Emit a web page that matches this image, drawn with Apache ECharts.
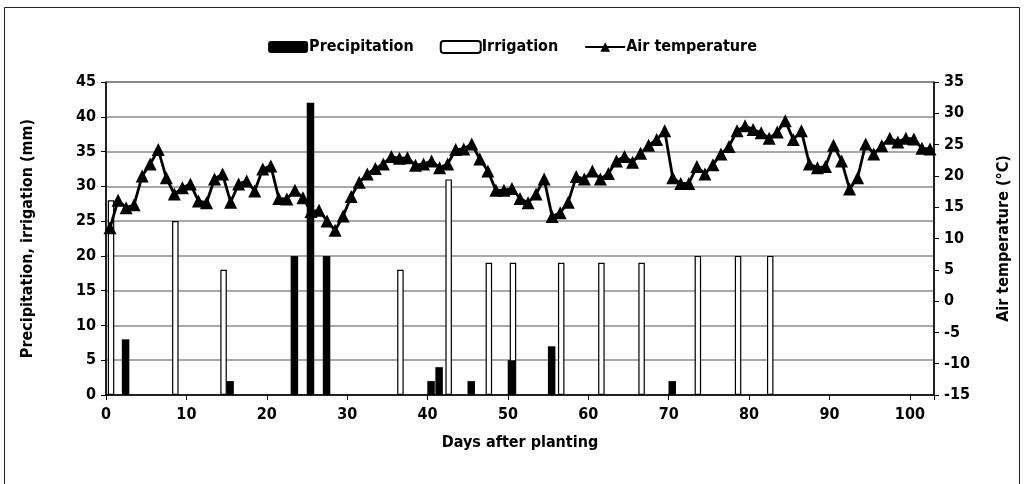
<!DOCTYPE html>
<html>
<head>
<meta charset="utf-8">
<script src="https://cdn.jsdelivr.net/npm/echarts@6/dist/echarts.min.js"></script>
<style>
  body { margin: 0; background: #fff; }
  #main { width: 1025px; height: 484px; }
</style>
</head>
<body>
<div id="main"></div>
<script type="text/javascript">
// daily precipitation (mm)
var precipDays = [2, 15, 23, 25, 27, 40, 41, 45, 50, 55, 70];
var precipMm   = [8, 2, 20, 42, 20, 2, 4, 2, 5, 7, 2];
// irrigation events (mm)
var irrigDays = [0, 8, 14, 36, 42, 47, 50, 56, 61, 66, 73, 78, 82];
var irrigMm   = [28, 25, 18, 18, 31, 19, 19, 19, 19, 19, 20, 20, 20];
// mean air temperature, day 0 .. 102 (°C)
var airTemp = [
  11.7, 16.1, 14.9, 15.4, 20.0, 21.9, 24.2, 19.7, 17.1, 18.1,
  18.7, 16.0, 15.7, 19.5, 20.3, 15.8, 18.7, 19.2, 17.6, 21.1,
  21.6, 16.4, 16.3, 17.7, 16.5, 14.3, 14.5, 12.8, 11.3, 13.6,
  16.7, 19.0, 20.3, 21.2, 21.9, 23.1, 22.8, 22.9, 21.7, 21.9,
  22.4, 21.3, 21.9, 24.2, 24.3, 25.1, 22.7, 20.8, 17.7, 17.7,
  18.0, 16.4, 15.7, 17.1, 19.5, 13.5, 14.1, 15.8, 19.9, 19.5,
  20.8, 19.5, 20.4, 22.4, 23.1, 22.2, 23.6, 24.9, 25.8, 27.2,
  19.7, 18.8, 18.8, 21.5, 20.3, 21.8, 23.5, 24.7, 27.2, 28.0,
  27.4, 26.9, 26.0, 27.0, 28.8, 25.8, 27.2, 21.9, 21.3, 21.5,
  24.9, 22.4, 17.9, 19.7, 25.1, 23.5, 24.8, 26.0, 25.4, 26.0,
  25.9, 24.4, 24.3
];

var font = "'Liberation Sans Narrow', 'DejaVu Sans Condensed', sans-serif";

// excel date axis puts each day in the middle of its slot
function pairs(days, vals) {
  return days.map(function (d, i) { return [d + 0.5, vals[i]]; });
}
var tempData = airTemp.map(function (t, i) { return [i + 0.5, t]; });

var chart = echarts.init(document.getElementById('main'));
chart.setOption({
  animation: false,
  backgroundColor: '#fff',
  textStyle: { fontFamily: font },
  graphic: [{
    type: 'rect',
    shape: { x: 4.5, y: 7.5, width: 1015, height: 500 },
    style: { fill: 'none', stroke: '#222', lineWidth: 1 },
    silent: true
  }],
  legend: {
    top: 34,
    left: 'center',
    itemWidth: 40,
    itemHeight: 12,
    itemGap: 26,
    textStyle: { fontFamily: font, fontWeight: 'bold', fontSize: 16, color: '#000', padding: [0, 0, 0, -4] },
    data: ['Precipitation', 'Irrigation', 'Air temperature']
  },
  grid: {
    left: 106, right: 91, top: 82, bottom: 89,
    show: true, borderColor: '#000', borderWidth: 1
  },
  xAxis: {
    type: 'value',
    min: 0, max: 103, interval: 10,
    name: 'Days after planting',
    nameLocation: 'middle',
    nameGap: 40,
    nameTextStyle: { fontFamily: font, fontWeight: 'bold', fontSize: 16, color: '#000' },
    axisLine: { lineStyle: { color: '#000', width: 1.5 } },
    axisTick: { show: true, length: 5, lineStyle: { color: '#000' } },
    axisLabel: {
      fontFamily: font, fontWeight: 'bold', fontSize: 16, color: '#000', margin: 12,
      formatter: function (v) { return v % 10 === 0 ? v : ''; }
    },
    splitLine: { show: false }
  },
  yAxis: [{
    type: 'value',
    min: 0, max: 45, interval: 5,
    name: 'Precipitation, irrigation (mm)',
    nameLocation: 'middle',
    nameGap: 70,
    nameTextStyle: { fontFamily: font, fontWeight: 'bold', fontSize: 16, color: '#000' },
    axisLine: { show: true, lineStyle: { color: '#000', width: 1.5 } },
    axisTick: { show: true, length: 5, lineStyle: { color: '#000' } },
    axisLabel: { fontFamily: font, fontWeight: 'bold', fontSize: 16, color: '#000', margin: 10 },
    splitLine: { show: true, lineStyle: { color: '#8c8c8c', width: 1.5 } }
  }, {
    type: 'value',
    min: -15, max: 35, interval: 5,
    position: 'right',
    name: 'Air temperature (°C)',
    nameLocation: 'middle',
    nameGap: 62,
    nameRotate: 90,
    nameTextStyle: { fontFamily: font, fontWeight: 'bold', fontSize: 16, color: '#000' },
    axisLine: { show: true, lineStyle: { color: '#000', width: 1.5 } },
    axisTick: { show: true, length: 5, lineStyle: { color: '#000' } },
    axisLabel: { fontFamily: font, fontWeight: 'bold', fontSize: 16, color: '#000', margin: 10 },
    splitLine: { show: false }
  }],
  series: [{
    name: 'Precipitation',
    type: 'bar',
    yAxisIndex: 0,
    barWidth: 7.5,
    barGap: '-73%',
    z: 3,
    itemStyle: { color: '#000' },
    data: pairs(precipDays, precipMm)
  }, {
    name: 'Irrigation',
    type: 'bar',
    yAxisIndex: 0,
    barWidth: 6.5,
    barGap: '-73%',
    z: 2,
    itemStyle: { color: '#fff', borderColor: '#000', borderWidth: 1.2 },
    data: pairs(irrigDays, irrigMm)
  }, {
    name: 'Air temperature',
    type: 'line',
    yAxisIndex: 1,
    z: 4,
    symbol: 'triangle',
    symbolSize: 13,
    lineStyle: { color: '#000', width: 2.8 },
    itemStyle: { color: '#000' },
    data: tempData
  }]
});
</script>
</body>
</html>
